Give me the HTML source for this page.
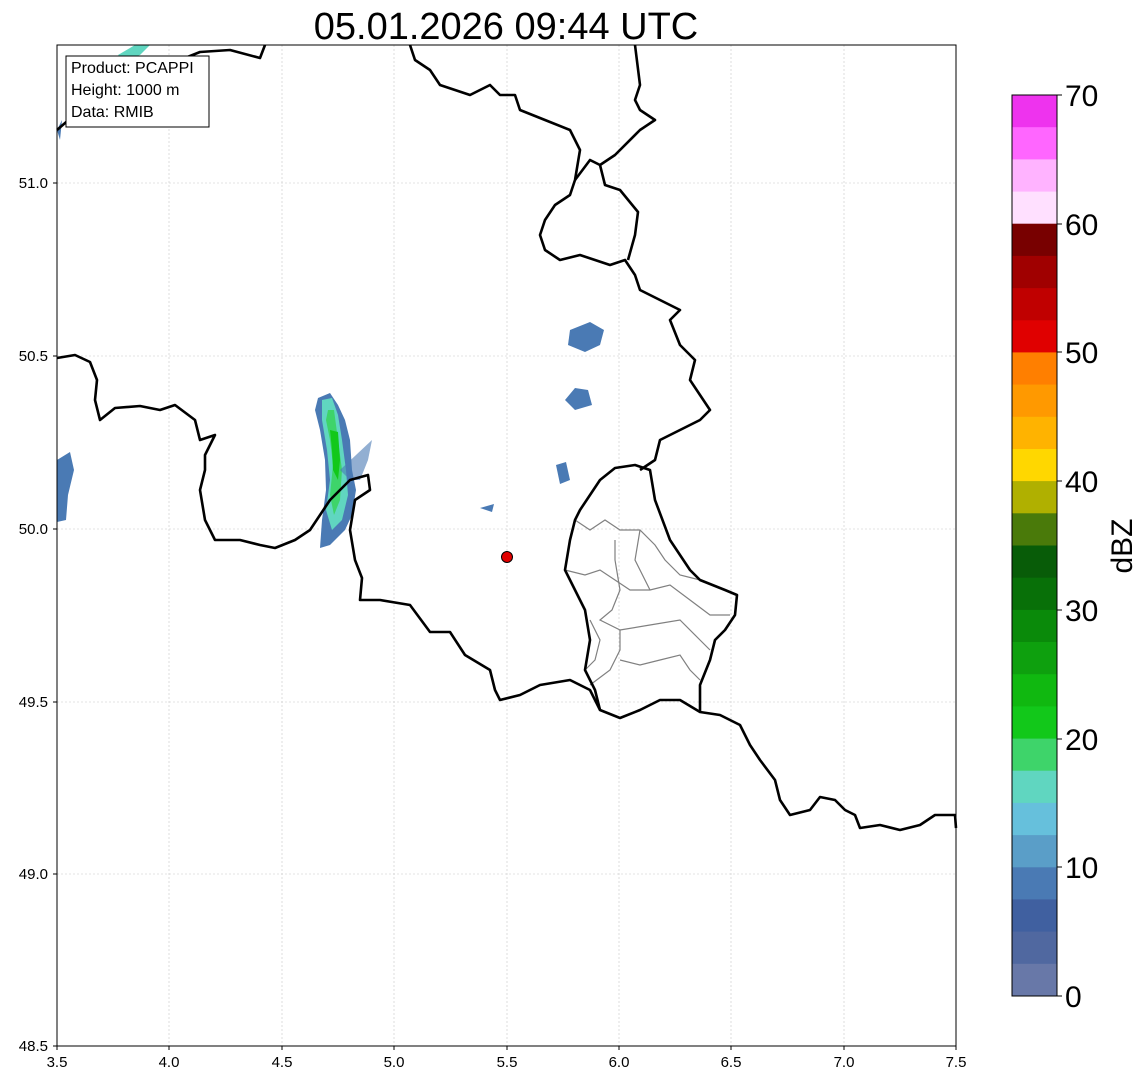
<!DOCTYPE html>
<html><head><meta charset="utf-8"><style>
body{margin:0;background:#fff;}
svg{display:block;font-family:"Liberation Sans","DejaVu Sans",sans-serif;}
</style></head><body>
<svg width="1145" height="1084" viewBox="0 0 1145 1084" xmlns="http://www.w3.org/2000/svg">
<rect width="1145" height="1084" fill="#fff"/>
<text x="506" y="39" font-size="38" text-anchor="middle" fill="#000">05.01.2026 09:44 UTC</text>
<!-- grid -->
<g stroke="#c8c8c8" stroke-width="0.6" stroke-dasharray="2,2">
<line x1="169" y1="45" x2="169" y2="1046"/><line x1="282" y1="45" x2="282" y2="1046"/>
<line x1="394" y1="45" x2="394" y2="1046"/><line x1="507" y1="45" x2="507" y2="1046"/>
<line x1="619" y1="45" x2="619" y2="1046"/><line x1="731" y1="45" x2="731" y2="1046"/>
<line x1="844" y1="45" x2="844" y2="1046"/>
<line x1="57" y1="183" x2="956" y2="183"/><line x1="57" y1="356" x2="956" y2="356"/>
<line x1="57" y1="529" x2="956" y2="529"/><line x1="57" y1="702" x2="956" y2="702"/>
<line x1="57" y1="874" x2="956" y2="874"/>
</g>
<!-- echoes -->
<g>
<path d="M318,398 L330,393 L338,405 L345,420 L350,440 L352,470 L356,490 L352,515 L345,530 L330,545 L320,548 L322,520 L326,490 L325,460 L320,430 L315,410Z" fill="#4a7ab4"/>
<path d="M322,400 L332,398 L338,415 L342,440 L346,470 L348,495 L342,520 L332,530 L326,510 L330,480 L327,450 L322,420Z" fill="#60d6c0"/>
<path d="M328,410 L334,410 L338,440 L342,470 L340,500 L334,515 L330,495 L333,465 L330,440 L326,420Z" fill="#3ed46a"/>
<path d="M330,430 L338,432 L340,460 L338,480 L333,470 L332,450Z" fill="#12c81a"/>
<path d="M340,470 L372,440 L368,460 L360,480 L350,480Z" fill="#4a7ab4" opacity="0.6"/>
<path d="M570,330 L590,322 L604,330 L600,345 L585,352 L568,345Z" fill="#4a7ab4"/>
<path d="M565,400 L575,388 L588,390 L592,405 L575,410Z" fill="#4a7ab4"/>
<path d="M556,465 L566,462 L570,480 L560,484Z" fill="#4a7ab4"/>
<path d="M57,460 L70,452 L74,470 L68,495 L66,520 L57,522Z" fill="#4a7ab4"/>
<path d="M118,55 L135,45 L150,45 L140,55 L125,60Z" fill="#60d6c0"/>
<path d="M480,508 L494,504 L492,512Z" fill="#4a7ab4"/>
<path d="M57,130 L62,120 L60,140Z" fill="#4a7ab4"/>
</g>
<!-- province lines -->
<g fill="none" stroke="#808080" stroke-width="1.2">
<path d="M575,520 L590,530 L605,520 L620,530 L640,530 L655,545 L665,560 L680,575 L700,580"/>
<path d="M565,570 L585,575 L600,570 L615,580 L630,590 L650,590 L670,585 L690,600 L710,615 L730,615"/>
<path d="M615,540 L615,560 L620,590 L612,610 L600,620 L620,630 L620,650 L610,670 L590,685"/>
<path d="M620,630 L650,625 L680,620 L700,640 L710,650"/>
<path d="M620,660 L640,665 L660,660 L680,655 L690,670 L700,680"/>
<path d="M590,620 L600,640 L595,660 L585,670"/>
<path d="M640,530 L635,560 L650,590"/>
</g>
<!-- borders -->
<g fill="none" stroke="#000" stroke-width="2.6" stroke-linejoin="round">
<path d="M57,358 L75,355 L90,362 L97,380 L95,400 L100,420 L115,408 L140,406 L160,410 L175,405 L195,420 L200,440 L215,435 L205,455 L205,470 L200,490 L205,520 L215,540 L240,540 L260,545 L275,548 L295,540 L310,530 L330,500 L350,480 L368,475 L370,490 L355,500 L350,530 L355,560 L362,578 L360,600 L380,600 L410,605 L430,632 L450,632 L465,655 L490,670 L495,690 L500,700 L520,695 L540,685 L570,680 L590,690 L600,710 L620,718 L640,710 L660,700 L680,700 L700,712 L720,715 L740,725 L750,745 L760,760 L775,780 L780,800 L790,815 L810,810 L820,797 L835,800 L845,810 L855,815 L860,828 L880,825 L900,830 L920,825 L935,815 L955,815 L956,828"/>
<path d="M600,710 L595,690 L585,670 L590,640 L585,610 L575,590 L565,570 L570,540 L575,520 L580,510 L590,495 L600,480 L615,468 L635,465 L650,470 L655,500 L670,540 L690,570 L700,580 L725,590 L737,595 L735,615 L725,630 L715,640 L710,660 L700,685 L700,712"/>
<path d="M640,470 L655,460 L660,440 L680,430 L700,420 L710,410 L700,395 L690,380 L695,360 L680,345 L670,320 L680,310 L660,300 L640,290 L635,275 L625,260 L610,265 L595,260 L580,255 L560,260 L545,250 L540,235 L545,220 L555,205 L570,195 L575,180 L580,150 L570,130 L545,120 L520,110 L515,95 L500,95 L490,85 L470,95 L440,85 L430,70 L415,60 L410,45"/>
<path d="M575,180 L590,160 L600,165 L605,185 L620,190 L638,212 L635,235 L628,260"/>
<path d="M600,165 L615,155 L640,130 L655,120 L640,110 L635,100 L640,85 L635,45"/>
<path d="M57,130 L80,110 L100,95 L130,80 L150,70 L180,60 L200,52 L230,50 L260,58 L265,45"/>
</g>
<circle cx="507" cy="557" r="5.5" fill="#e00000" stroke="#000" stroke-width="1"/>
<!-- axes frame -->
<rect x="57" y="45" width="899" height="1001" fill="none" stroke="#000" stroke-width="1"/>
<g stroke="#000" stroke-width="1">
<line x1="57" y1="1046" x2="57" y2="1050"/><line x1="169" y1="1046" x2="169" y2="1050"/><line x1="282" y1="1046" x2="282" y2="1050"/><line x1="394" y1="1046" x2="394" y2="1050"/><line x1="507" y1="1046" x2="507" y2="1050"/><line x1="619" y1="1046" x2="619" y2="1050"/><line x1="731" y1="1046" x2="731" y2="1050"/><line x1="844" y1="1046" x2="844" y2="1050"/><line x1="956" y1="1046" x2="956" y2="1050"/>
<line x1="53" y1="183" x2="57" y2="183"/><line x1="53" y1="356" x2="57" y2="356"/><line x1="53" y1="529" x2="57" y2="529"/><line x1="53" y1="702" x2="57" y2="702"/><line x1="53" y1="874" x2="57" y2="874"/><line x1="53" y1="1046" x2="57" y2="1046"/>
</g>
<g font-size="15" fill="#000" text-anchor="middle">
<text x="57" y="1067">3.5</text><text x="169" y="1067">4.0</text><text x="282" y="1067">4.5</text><text x="394" y="1067">5.0</text><text x="507" y="1067">5.5</text><text x="619" y="1067">6.0</text><text x="731" y="1067">6.5</text><text x="844" y="1067">7.0</text><text x="956" y="1067">7.5</text>
</g>
<g font-size="15" fill="#000" text-anchor="end">
<text x="48" y="188">51.0</text><text x="48" y="361">50.5</text><text x="48" y="534">50.0</text><text x="48" y="707">49.5</text><text x="48" y="879">49.0</text><text x="48" y="1051">48.5</text>
</g>
<rect x="66" y="56" width="143" height="71" fill="#fff" stroke="#000" stroke-width="1"/>
<g font-size="16" fill="#000"><text x="71" y="73">Product: PCAPPI</text><text x="71" y="95">Height: 1000 m</text><text x="71" y="117">Data: RMIB</text></g>
<!-- colorbar -->
<g>
<rect x="1012" y="95.0" width="45" height="32.6" fill="#ee33ee"/>
<rect x="1012" y="127.2" width="45" height="32.6" fill="#ff66ff"/>
<rect x="1012" y="159.4" width="45" height="32.6" fill="#ffb3ff"/>
<rect x="1012" y="191.6" width="45" height="32.6" fill="#ffe0ff"/>
<rect x="1012" y="223.7" width="45" height="32.6" fill="#780000"/>
<rect x="1012" y="255.9" width="45" height="32.6" fill="#a00000"/>
<rect x="1012" y="288.1" width="45" height="32.6" fill="#c00000"/>
<rect x="1012" y="320.3" width="45" height="32.6" fill="#e00000"/>
<rect x="1012" y="352.4" width="45" height="32.6" fill="#ff7f00"/>
<rect x="1012" y="384.6" width="45" height="32.6" fill="#ff9900"/>
<rect x="1012" y="416.8" width="45" height="32.6" fill="#ffb300"/>
<rect x="1012" y="449.0" width="45" height="32.6" fill="#ffd700"/>
<rect x="1012" y="481.1" width="45" height="32.6" fill="#b0b000"/>
<rect x="1012" y="513.3" width="45" height="32.6" fill="#4a7a0a"/>
<rect x="1012" y="545.5" width="45" height="32.6" fill="#085c08"/>
<rect x="1012" y="577.7" width="45" height="32.6" fill="#087008"/>
<rect x="1012" y="609.9" width="45" height="32.6" fill="#0a8a0a"/>
<rect x="1012" y="642.0" width="45" height="32.6" fill="#0ea00e"/>
<rect x="1012" y="674.2" width="45" height="32.6" fill="#10b810"/>
<rect x="1012" y="706.4" width="45" height="32.6" fill="#12c81a"/>
<rect x="1012" y="738.6" width="45" height="32.6" fill="#3ed46a"/>
<rect x="1012" y="770.7" width="45" height="32.6" fill="#60d6c0"/>
<rect x="1012" y="802.9" width="45" height="32.6" fill="#66c0dc"/>
<rect x="1012" y="835.1" width="45" height="32.6" fill="#5a9ec8"/>
<rect x="1012" y="867.3" width="45" height="32.6" fill="#4a7ab4"/>
<rect x="1012" y="899.4" width="45" height="32.6" fill="#4060a0"/>
<rect x="1012" y="931.6" width="45" height="32.6" fill="#5068a0"/>
<rect x="1012" y="963.8" width="45" height="32.2" fill="#6878a8"/>
<rect x="1012" y="95" width="45" height="901" fill="none" stroke="#000" stroke-width="1"/>
</g>
<g stroke="#000" stroke-width="1">
<line x1="1057" y1="95" x2="1062" y2="95"/><line x1="1057" y1="224" x2="1062" y2="224"/><line x1="1057" y1="352" x2="1062" y2="352"/><line x1="1057" y1="481" x2="1062" y2="481"/><line x1="1057" y1="610" x2="1062" y2="610"/><line x1="1057" y1="739" x2="1062" y2="739"/><line x1="1057" y1="867" x2="1062" y2="867"/><line x1="1057" y1="996" x2="1062" y2="996"/>
</g>
<g font-size="30" fill="#000">
<text x="1065" y="106">70</text><text x="1065" y="235">60</text><text x="1065" y="363">50</text><text x="1065" y="492">40</text><text x="1065" y="621">30</text><text x="1065" y="750">20</text><text x="1065" y="878">10</text><text x="1065" y="1007">0</text>
</g>
<text x="0" y="0" font-size="30" fill="#000" text-anchor="middle" transform="translate(1132,546) rotate(-90)">dBZ</text>
</svg>
</body></html>
